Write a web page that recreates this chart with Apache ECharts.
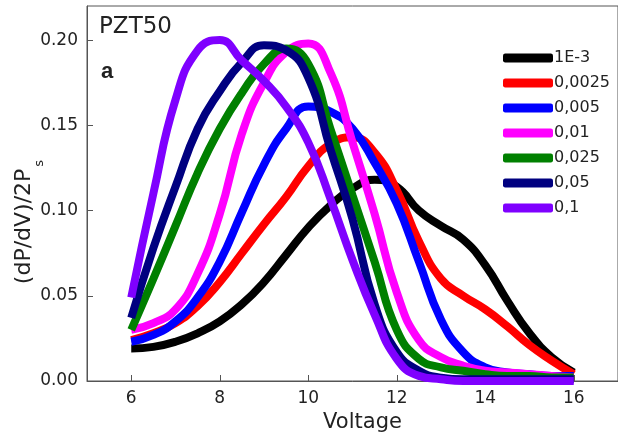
<!DOCTYPE html>
<html>
<head>
<meta charset="utf-8">
<script src="https://cdn.jsdelivr.net/npm/echarts@6/dist/echarts.min.js"></script>
<style>
  html, body { margin: 0; padding: 0; background: #fff; }
  #main { width: 618px; height: 442px; }
</style>
</head>
<body>
<div id="main"></div>
<script>
// voltage steps shared by every curve
var voltage = [6, 6.5, 7, 7.5, 8, 8.5, 9, 9.5, 10, 10.5, 11, 11.5, 12, 12.5, 13, 13.5, 14, 14.5, 15, 15.5, 16];

var rate1E3  = [0.019,0.020,0.023,0.028,0.035,0.045,0.058,0.074,0.090,0.103,0.113,0.118,0.114,0.100,0.091,0.083,0.068,0.047,0.028,0.014,0.005];
var rate0025 = [0.024,0.028,0.034,0.044,0.058,0.075,0.092,0.108,0.126,0.139,0.143,0.134,0.112,0.082,0.060,0.050,0.042,0.032,0.021,0.012,0.004];
var rate005  = [0.023,0.027,0.035,0.049,0.070,0.099,0.127,0.148,0.161,0.158,0.148,0.128,0.104,0.070,0.036,0.017,0.008,0.005,0.004,0.003,0.003];
var rate01   = [0.030,0.034,0.042,0.063,0.098,0.145,0.175,0.193,0.198,0.181,0.140,0.098,0.052,0.024,0.014,0.009,0.006,0.005,0.004,0.003,0.002];
var rate025  = [0.030,0.060,0.091,0.122,0.148,0.169,0.186,0.195,0.186,0.148,0.109,0.070,0.030,0.013,0.008,0.006,0.004,0.003,0.003,0.002,0.002];
var rate05   = [0.037,0.078,0.114,0.148,0.170,0.187,0.197,0.194,0.178,0.136,0.095,0.045,0.017,0.006,0.002,0.001,0.001,0.001,0.001,0.001,0.001];
var rate1    = [0.049,0.110,0.165,0.194,0.200,0.188,0.176,0.161,0.140,0.107,0.071,0.039,0.013,0.003,0.001,0,0,0,0,0,0];

var seriesNames = ['1E-3', '0,0025', '0,005', '0,01', '0,025', '0,05', '0,1'];
var seriesData = [rate1E3, rate0025, rate005, rate01, rate025, rate05, rate1];
var colors = ['#000000', '#ff0000', '#0000ff', '#ff00ff', '#008000', '#000080', '#7f00ff'];

var xTicks = [6, 8, 10, 12, 14, 16];
var yTicks = [0, 0.05, 0.10, 0.15, 0.20];

var font = '"DejaVu Sans", sans-serif';

var chart = echarts.init(document.getElementById('main'));

var series = seriesNames.map(function (name, i) {
  return {
    name: name,
    type: 'line',
    smooth: 0.5,
    showSymbol: false,
    data: voltage.map(function (v, j) { return [v, seriesData[i][j]]; }),
    lineStyle: { width: 8, color: colors[i] },
    itemStyle: { color: colors[i] }
  };
});

chart.setOption({
  animation: false,
  grid: {
    left: 87, top: 6, right: -6, bottom: 61,
    show: true, borderColor: '#555', borderWidth: 1
  },
  legend: {
    orient: 'vertical',
    left: 503, top: 50, padding: 0,
    icon: 'roundRect',
    itemWidth: 50, itemHeight: 9,
    itemGap: 9,
    textStyle: { fontFamily: font, fontSize: 16, color: '#222', padding: [0, 0, 0, -4] },
    data: seriesNames
  },
  graphic: [
    { type: 'text', left: 99, top: 16, style: { text: 'PZT50', font: '23px ' + font, fill: '#222' } },
    { type: 'text', left: 101, top: 61, style: { text: 'a', font: 'bold 22px "Liberation Sans", sans-serif', fill: '#222' } },
    {
      // y axis title, drawn by hand so it can sit a little below the axis centre like the original
      type: 'text', x: 25, y: 222, rotation: Math.PI / 2,
      style: {
        text: '{m|(dP/dV)/2P}{s|s}', align: 'center', verticalAlign: 'middle',
        rich: {
          m: { font: '22px ' + font, fill: '#222', lineHeight: 24, verticalAlign: 'top' },
          s: { font: '13px ' + font, fill: '#222', lineHeight: 13, verticalAlign: 'top', padding: [20, 0, 0, 2] }
        }
      }
    }
  ],
  xAxis: {
    type: 'value', min: 5, max: 17,
    name: 'Voltage', nameLocation: 'middle', nameGap: 31,
    nameTextStyle: { fontFamily: font, fontSize: 21, color: '#222', padding: [0, 0, 0, 20] },
    axisLine: { lineStyle: { color: '#555' } },
    axisTick: { inside: true, length: 6, customValues: xTicks, lineStyle: { color: '#555' } },
    axisLabel: { customValues: xTicks, fontFamily: font, fontSize: 17, color: '#222', margin: 9 },
    splitLine: { show: false }
  },
  yAxis: {
    type: 'value', min: 0, max: 0.22,
    axisLine: { show: true, lineStyle: { color: '#555' } },
    axisTick: { show: true, inside: true, length: 6, customValues: yTicks, lineStyle: { color: '#555' } },
    axisLabel: {
      customValues: yTicks, fontFamily: font, fontSize: 17, color: '#222', margin: 9,
      formatter: function (v) { return v.toFixed(2); }
    },
    splitLine: { show: false }
  },
  series: series
});
</script>
</body>
</html>
